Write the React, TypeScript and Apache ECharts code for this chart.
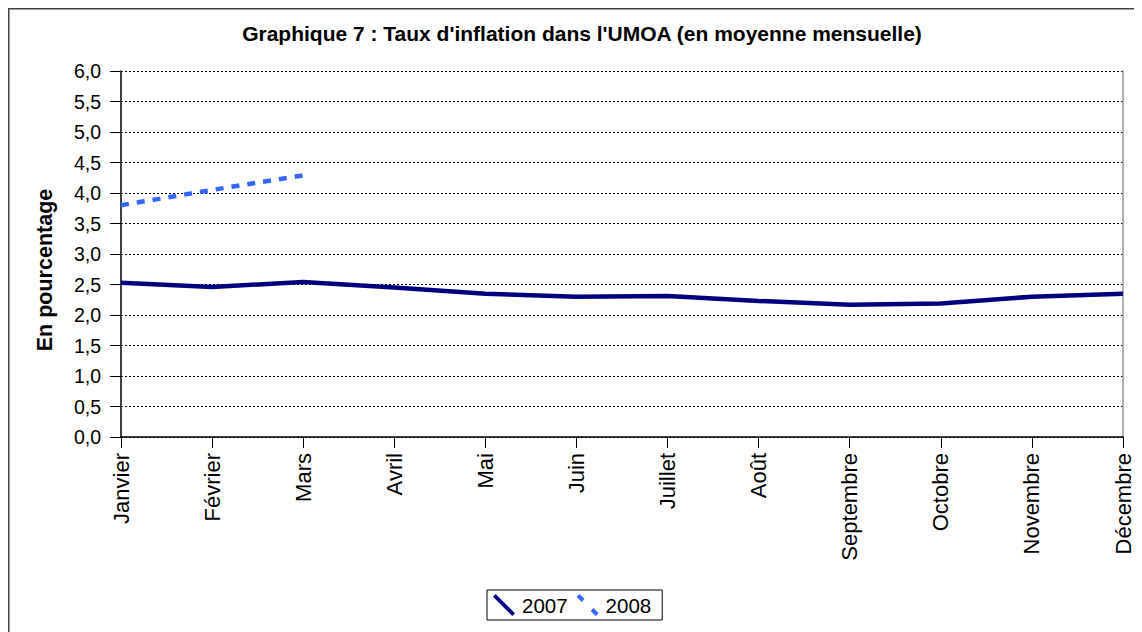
import React, { useEffect, useRef } from "react";
import * as echarts from "echarts";

const months = ["Janvier", "Février", "Mars", "Avril", "Mai", "Juin", "Juillet", "Août", "Septembre", "Octobre", "Novembre", "Décembre"];
const values2007 = [2.53, 2.46, 2.54, 2.45, 2.35, 2.30, 2.31, 2.23, 2.17, 2.19, 2.30, 2.35];
const values2008 = [3.80, 4.05, 4.29, null, null, null, null, null, null, null, null, null];
const seriesNames = ["2007", "2008"];
const titleText = "Graphique 7 : Taux d'inflation dans l'UMOA (en moyenne mensuelle)";
const yAxisTitle = "En pourcentage";

const FONT = "'Liberation Sans', Arial, sans-serif";

export default function App() {
  const ref = useRef<HTMLDivElement>(null);
  useEffect(() => {
    if (!ref.current) return;
    const chart = echarts.init(ref.current, undefined, { renderer: "svg" });
    chart.setOption({
      animation: false,
      backgroundColor: "#ffffff",
      textStyle: { fontFamily: FONT },
      title: {
        text: titleText,
        left: 569,
        textAlign: "center",
        top: 10,
        textStyle: { fontFamily: FONT, fontSize: 21, fontWeight: "bold", color: "#000" },
      },
      graphic: [
        {
          type: "rect",
          shape: { x: 0.75, y: 0.75, width: 1300, height: 800 },
          style: { fill: "none", stroke: "#404040", lineWidth: 1.5 },
          silent: true,
        },
        {
          type: "text",
          x: 37,
          y: 262,
          rotation: Math.PI / 2,
          style: {
            text: yAxisTitle,
            fontFamily: FONT,
            fontSize: 21.5,
            fontWeight: "bold",
            fill: "#000",
            align: "center",
            verticalAlign: "middle",
          },
          silent: true,
        },
      ],
      legend: {
        data: [
          { name: seriesNames[0], icon: "path://M0,1.2L1.2,0L10,8.8L8.8,10Z" },
          { name: seriesNames[1], icon: "path://M0,1.3L1.3,0L3.6,2.3L2.3,3.6Z M6.4,7.7L7.7,6.4L10,8.7L8.7,10Z" },
        ],
        left: 479,
        top: 582,
        itemWidth: 26,
        itemHeight: 22,
        itemGap: 9,
        padding: [4, 11, 4, 6],
        borderColor: "#000",
        borderWidth: 1,
        textStyle: { fontFamily: FONT, fontSize: 20.5, color: "#000" },
      },
      grid: { left: 113, right: 19, top: 63, bottom: 195, containLabel: false },
      xAxis: {
        type: "category",
        data: months,
        boundaryGap: false,
        axisLine: { lineStyle: { color: "#000", width: 1.5 } },
        axisTick: { show: true, length: 11, lineStyle: { color: "#000" } },
        axisLabel: {
          rotate: 90,
          interval: 0,
          fontFamily: FONT,
          fontSize: 22,
          color: "#000",
          margin: 16,
        },
        splitLine: { show: false },
      },
      yAxis: [
        {
          type: "value",
          min: 0,
          max: 6,
          interval: 0.5,
          axisLine: { show: true, lineStyle: { color: "#000", width: 1.5 } },
          axisTick: { show: true, length: 11, lineStyle: { color: "#000" } },
          axisLabel: {
            fontFamily: FONT,
            fontSize: 19.5,
            color: "#000",
            margin: 20,
            formatter: (v: number) => v.toFixed(1).replace(".", ","),
          },
          splitLine: { show: true, lineStyle: { color: "#000", type: [2, 2], width: 1 } },
        },
        {
          type: "value",
          min: 0,
          max: 6,
          position: "right",
          axisLine: { show: true, lineStyle: { color: "#999", width: 1.5 } },
          axisTick: { show: false },
          axisLabel: { show: false },
          splitLine: { show: false },
        },
      ],
      series: [
        {
          name: seriesNames[0],
          type: "line",
          data: values2007,
          showSymbol: false,
          symbol: "none",
          lineStyle: { color: "#000080", width: 4.5 },
          itemStyle: { color: "#000080" },
        },
        {
          name: seriesNames[1],
          type: "line",
          data: values2008,
          showSymbol: false,
          symbol: "none",
          lineStyle: { color: "#3366ff", width: 4.5, type: [8, 8] },
          itemStyle: { color: "#3366ff" },
        },
      ],
    });
    return () => chart.dispose();
  }, []);
  return <div ref={ref} style={{ width: 1134, height: 624 }} />;
}
